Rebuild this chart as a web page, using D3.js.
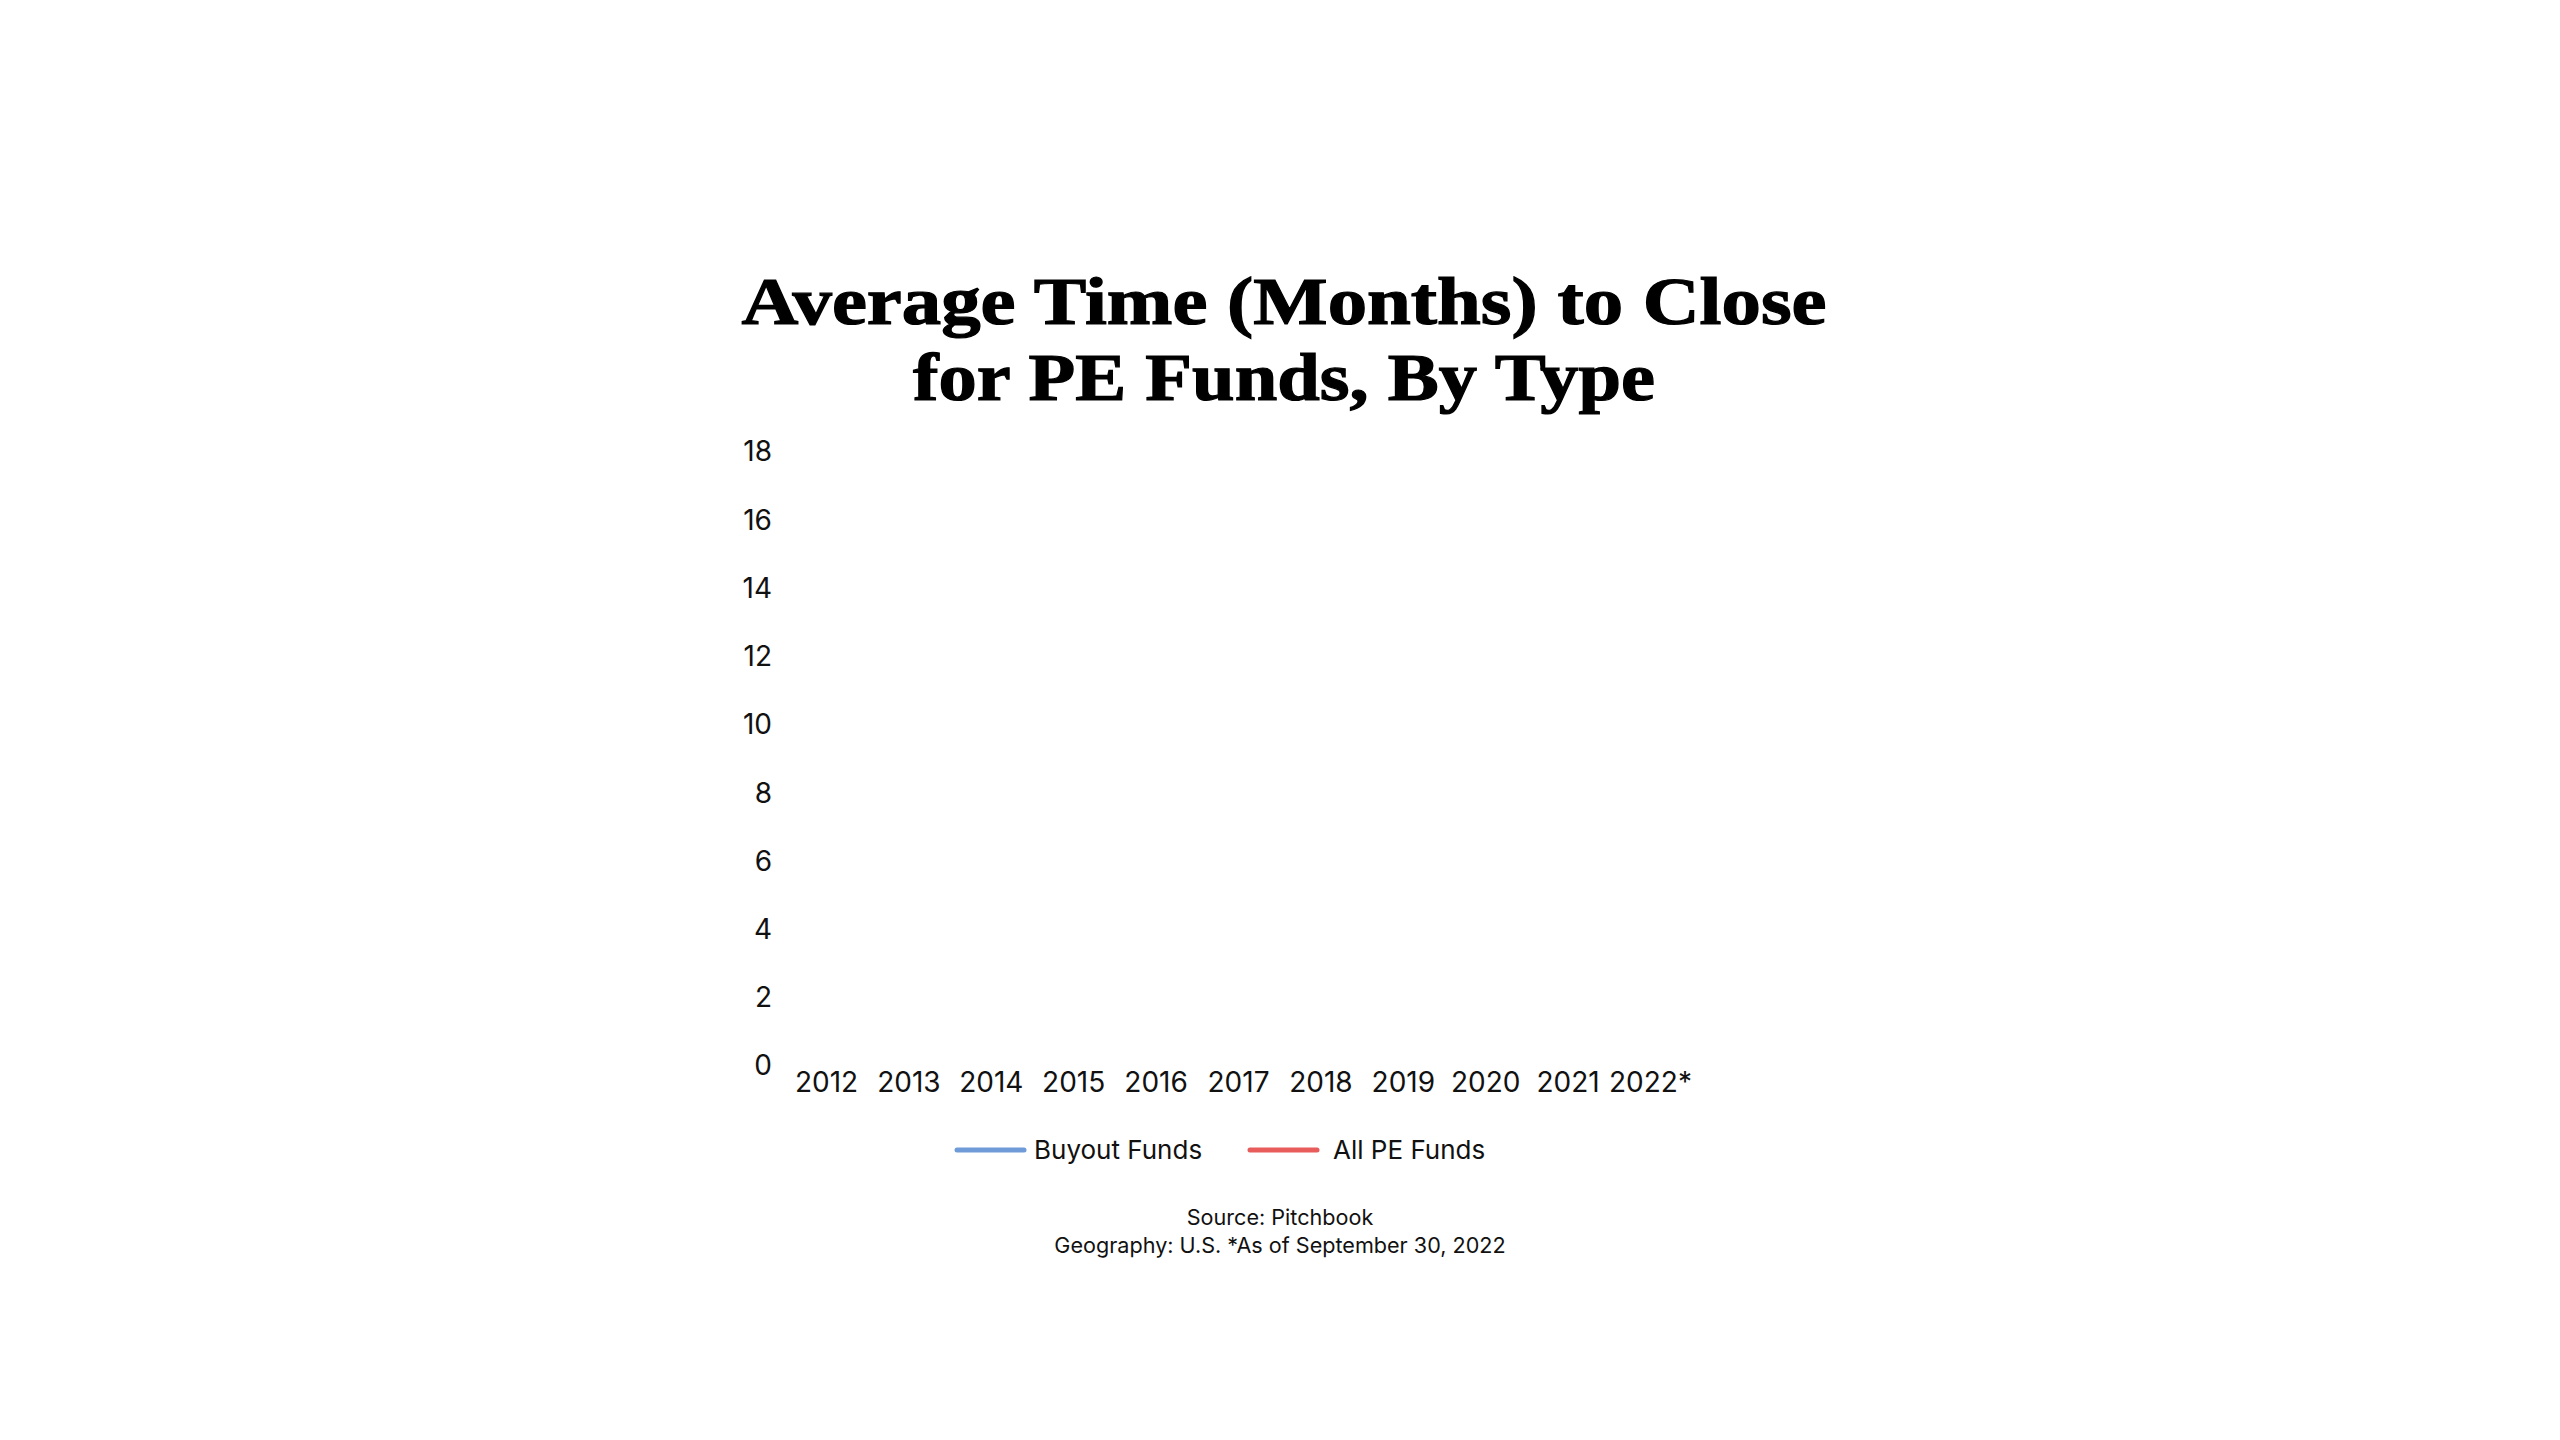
<!DOCTYPE html>
<html>
<head>
<meta charset="utf-8">
<script src="https://cdn.jsdelivr.net/npm/d3@7"></script>
<style>
  html, body { margin: 0; padding: 0; background: #fff; }
  svg { display: block; }
</style>
</head>
<body>
<div id="chart"></div>
<script>
// chart data
var years = ["2012","2013","2014","2015","2016","2017","2018","2019","2020","2021","2022*"];
var yTicks = [0,2,4,6,8,10,12,14,16,18];
// the reference shows no plotted lines, so no values can be read: left empty
var buyoutFunds = [null,null,null,null,null,null,null,null,null,null,null];
var allPEFunds  = [null,null,null,null,null,null,null,null,null,null,null];
var seriesNames = ["Buyout Funds","All PE Funds"];
var seriesColors = ["#6f9bd9","#e95c5c"];
var titleLines = ["Average Time (Months) to Close","for PE Funds, By Type"];
var notes = ["Source: Pitchbook","Geography: U.S. *As of September 30, 2022"];

var width = 2560, height = 1440;
var titleWidths = [1085, 742];

var svg = d3.select("#chart").append("svg")
	.attr("width", width)
	.attr("height", height);

// title
svg.append("g")
	.attr("font-family", "'Liberation Serif', 'DejaVu Serif', serif")
	.attr("font-weight", "bold")
	.attr("font-size", 68)
	.attr("fill", "#000")
	.attr("stroke", "#000")
	.attr("stroke-width", 1.2)
	.attr("text-anchor", "middle")
	.selectAll("text").data(titleLines).enter().append("text")
	.attr("x", 1284)
	.attr("y", function(d, i) { return 324 + i * 76; })
	.attr("textLength", function(d, i) { return titleWidths[i]; })
	.attr("lengthAdjust", "spacingAndGlyphs")
	.text(function(d) { return d; });

var x = d3.scalePoint().domain(years).range([826, 1650]);
var y = d3.scaleLinear().domain([0, 18]).range([1066, 452]);

// y axis labels only
var yAxis = svg.append("g")
	.attr("transform", "translate(772,0)")
	.call(d3.axisLeft(y).tickValues(yTicks).tickSize(0).tickPadding(0));
yAxis.select(".domain").remove();
yAxis.selectAll("text")
	.attr("font-family", "Inter, 'Noto Sans', sans-serif")
	.attr("font-size", 28)
	.attr("fill", "#111");

// x axis labels only
var xAxis = svg.append("g")
	.attr("transform", "translate(0,1072)")
	.call(d3.axisBottom(x).tickSize(0).tickPadding(0));
xAxis.select(".domain").remove();
xAxis.selectAll("text")
	.attr("font-family", "Inter, 'Noto Sans', sans-serif")
	.attr("font-size", 28)
	.attr("fill", "#111")
	.attr("dy", "0.71em");

// series lines
var line = d3.line()
	.defined(function(d) { return d.v != null; })
	.x(function(d) { return x(d.year); })
	.y(function(d) { return y(d.v); });

[buyoutFunds, allPEFunds].forEach(function(vals, i) {
	var pts = years.map(function(yr, j) { return {year: yr, v: vals[j]}; });
	svg.append("path")
		.attr("d", line(pts))
		.attr("fill", "none")
		.attr("stroke", seriesColors[i])
		.attr("stroke-width", 5);
});

// legend
var legendX = [957, 1250];
var legend = svg.append("g");
seriesNames.forEach(function(name, i) {
	legend.append("line")
		.attr("x1", legendX[i]).attr("x2", legendX[i] + 67)
		.attr("y1", 1150).attr("y2", 1150)
		.attr("stroke", seriesColors[i])
		.attr("stroke-width", 5)
		.attr("stroke-linecap", "round");
	legend.append("text")
		.attr("x", legendX[i] + (i == 0 ? 77 : 83))
		.attr("y", 1150)
		.attr("dy", "0.35em")
		.attr("font-family", "Inter, 'Noto Sans', sans-serif")
		.attr("font-size", 26)
		.attr("fill", "#111")
		.text(name);
});

// source notes
svg.append("g")
	.attr("font-family", "Inter, 'Noto Sans', sans-serif")
	.attr("font-size", 21.6)
	.attr("fill", "#111")
	.attr("text-anchor", "middle")
	.selectAll("text").data(notes).enter().append("text")
	.attr("x", 1280)
	.attr("y", function(d, i) { return 1225 + i * 28; })
	.text(function(d) { return d; });
</script>
</body>
</html>
